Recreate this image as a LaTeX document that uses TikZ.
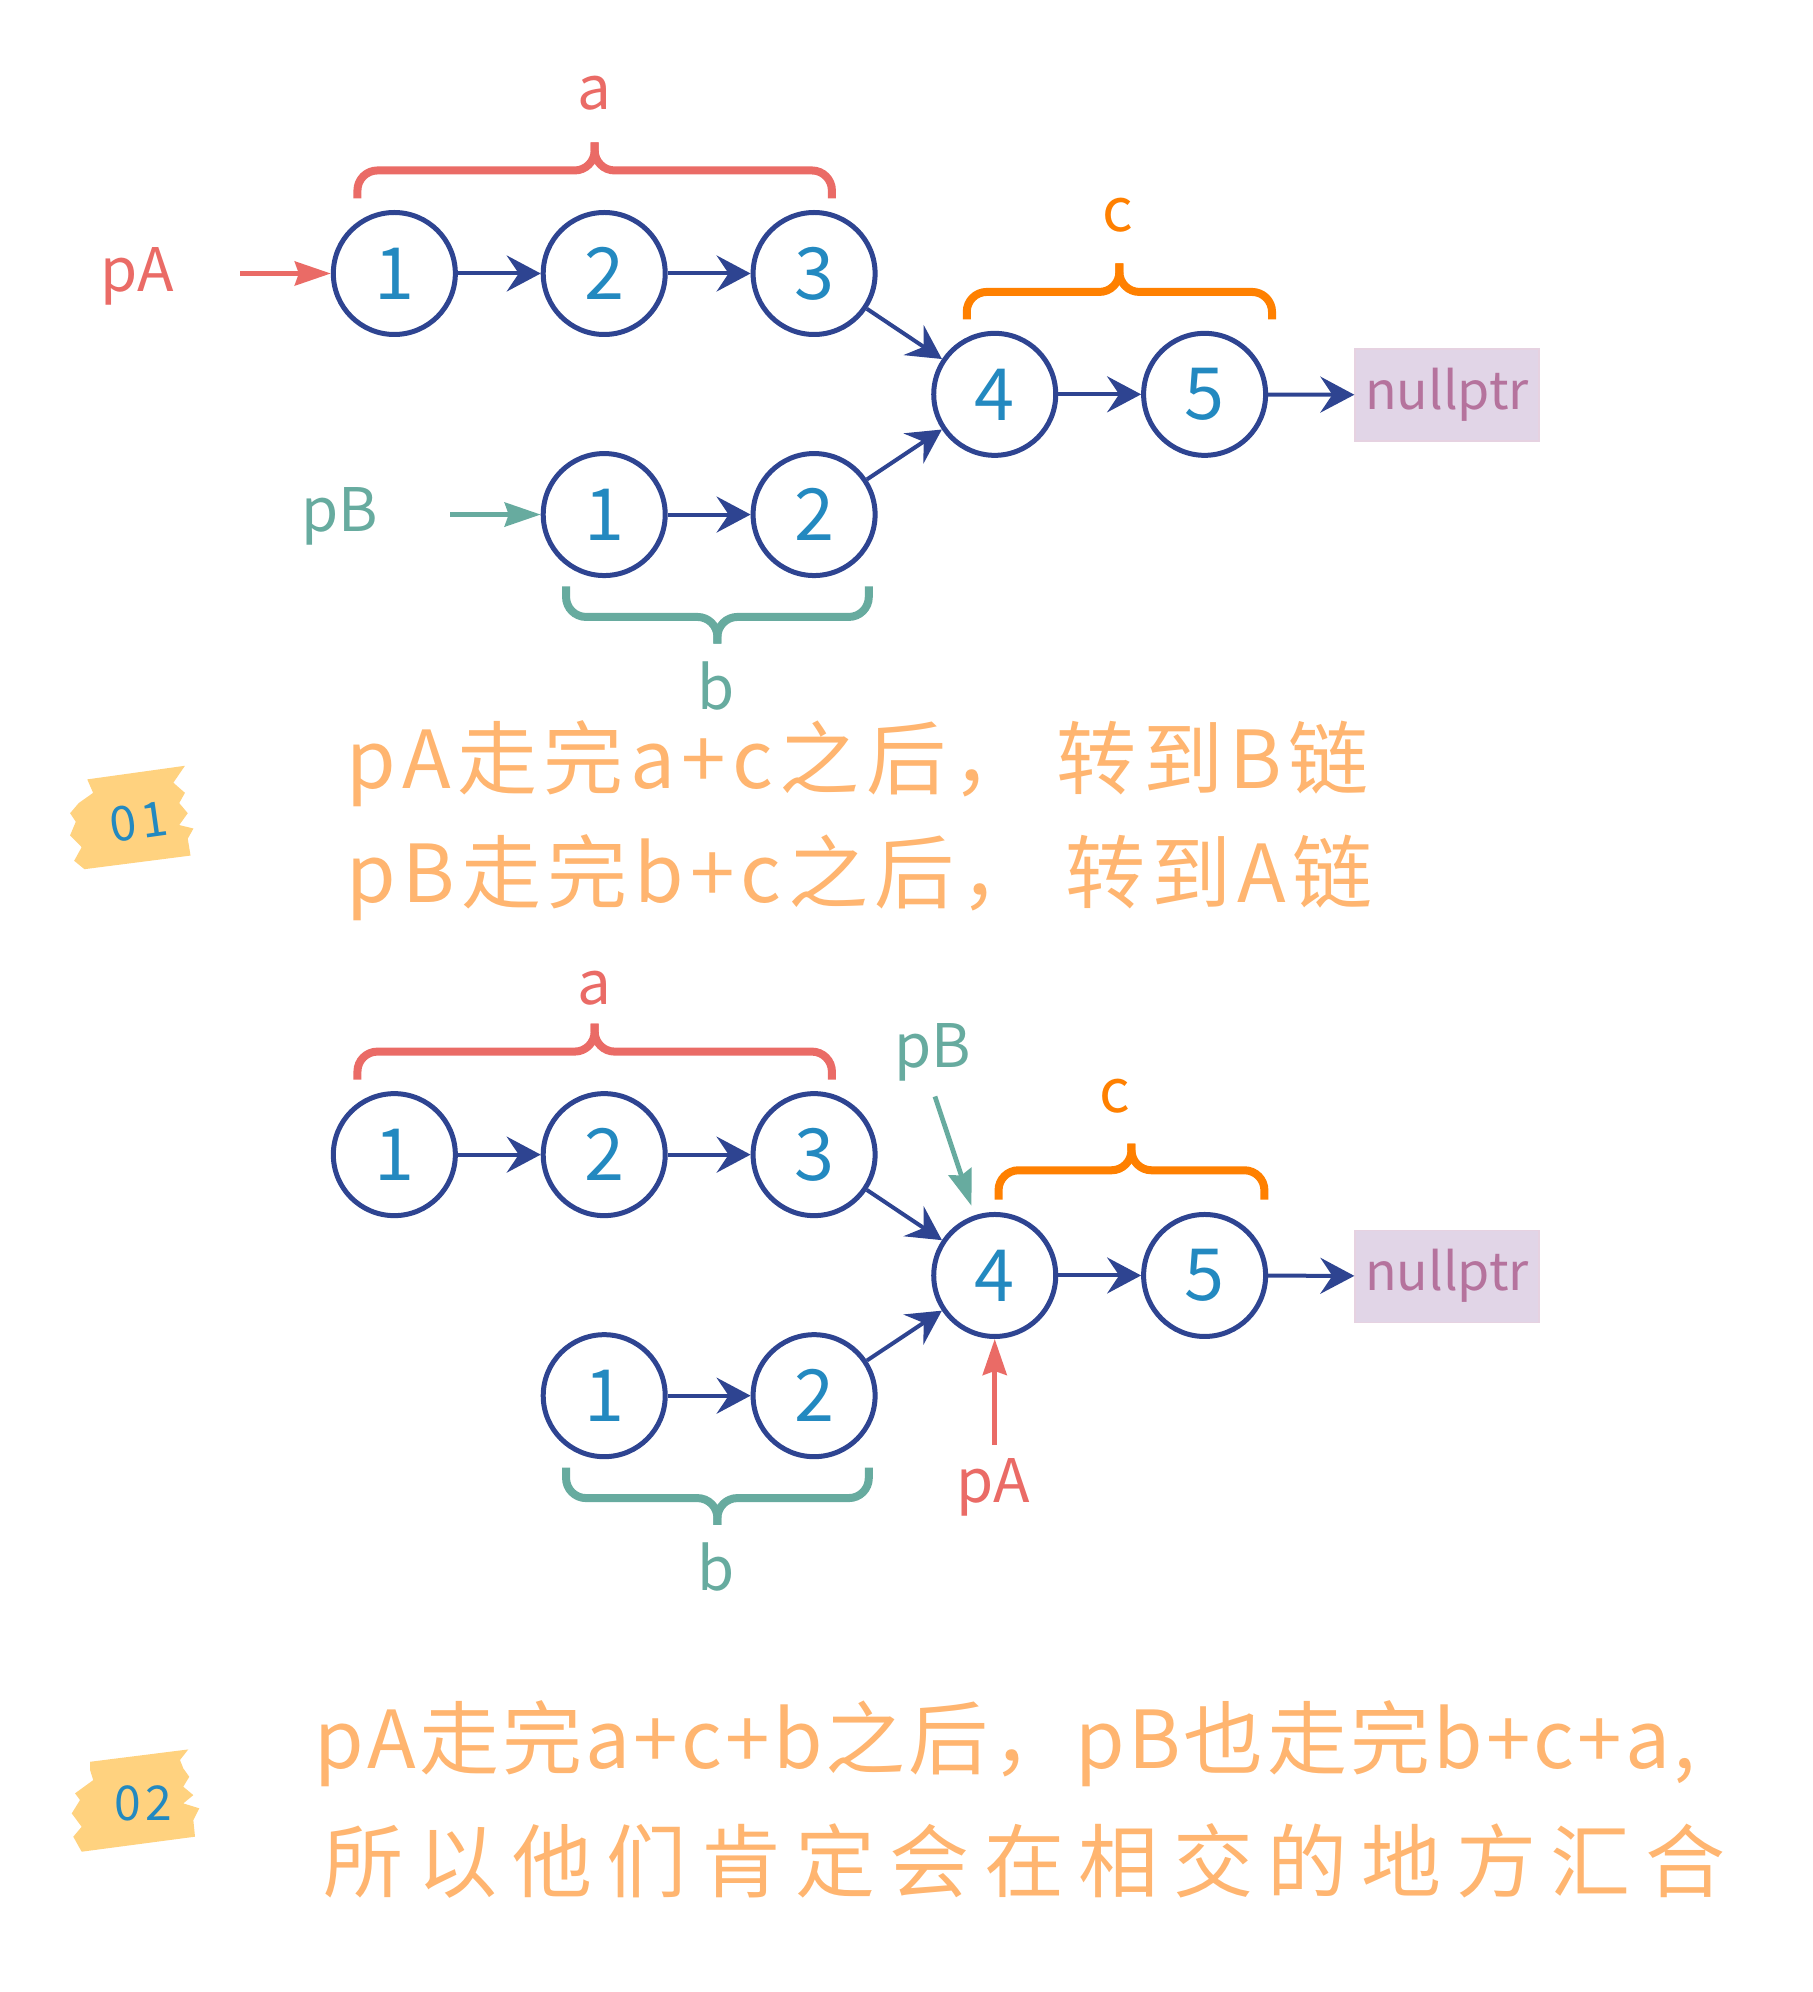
\documentclass[tikz,border=0pt]{standalone}
\usepackage{fontspec}
\setmainfont{Noto Sans CJK SC}
\newfontfamily\notefont{Noto Sans CJK SC}
\usetikzlibrary{arrows.meta}

\definecolor{nodeblue}{HTML}{2E4491}
\definecolor{digitblue}{HTML}{2389C0}
\definecolor{pared}{HTML}{EA6B66}
\definecolor{pbteal}{HTML}{67AB9F}
\definecolor{corange}{HTML}{FF8000}
\definecolor{noteorange}{HTML}{FFB570}
\definecolor{nullpink}{HTML}{B5739D}
\definecolor{nullfill}{HTML}{E1D5E7}
\definecolor{tagyellow}{HTML}{FFD27F}

\tikzset{
  lnode/.style={circle, draw=nodeblue, line width=2.5pt, minimum size=61pt, inner sep=0pt,
    text=digitblue, font=\fontsize{36}{36}\selectfont},
  link/.style={draw=nodeblue, line width=2pt, -{Stealth[length=17pt,width=18pt,inset=6pt]}},
  ptr/.style={line width=2.4pt, -{Stealth[length=18pt,width=12pt,inset=2pt]}},
  lbl/.style={inner sep=0pt, font=\fontsize{30}{30}\selectfont},
  brc/.style={line width=4pt, rounded corners=10pt},
  nullbox/.style={fill=nullfill, draw=nullfill!85!pink, line width=0.6pt, minimum width=92pt,
    minimum height=46pt, inner sep=0pt, text=nullpink, font=\fontsize{26}{26}\selectfont},
  note/.style={anchor=west, inner sep=0pt, text=noteorange},
  tagtxt/.style={inner sep=0pt, text=digitblue, font=\notefont\addfontfeature{LetterSpace=10}\fontsize{24}{24}\selectfont},
}

% brace: x1, x2, y of the ends, y of the bar, y of the tip, colour
\newcommand\hbrace[6]{%
  \draw[brc,#6] (#1,#3) -- (#1,#4) -- ({(#1+#2)/2},#4) -- ({(#1+#2)/2},#5);
  \draw[brc,#6] (#2,#3) -- (#2,#4) -- ({(#1+#2)/2},#4) -- ({(#1+#2)/2},#5);}

\begin{document}
\begin{tikzpicture}[x=0.636pt, y=-0.636pt]
\useasboundingbox (0,0) rectangle (1424.5,1566);

% the two lists, drawn twice
\foreach \s/\dy in {t/0, m/692.7}{
  \node[lnode] (a1\s) at (310,{215+\dy}) {1};
  \node[lnode] (a2\s) at (475,{215+\dy}) {2};
  \node[lnode] (a3\s) at (640,{215+\dy}) {3};
  \node[lnode] (b1\s) at (475,{404.5+\dy}) {1};
  \node[lnode] (b2\s) at (640,{404.5+\dy}) {2};
  \node[lnode] (c4\s) at (782,{310+\dy}) {4};
  \node[lnode] (c5\s) at (947,{310+\dy}) {5};
  \node[nullbox] (nl\s) at (1137.5,{310.5+\dy}) {nullptr};

  \draw[link] (a1\s) -- (a2\s);
  \draw[link] (a2\s) -- (a3\s);
  \draw[link] (a3\s) -- (c4\s);
  \draw[link] (b1\s) -- (b2\s);
  \draw[link] (b2\s) -- (c4\s);
  \draw[link] (c4\s) -- (c5\s);
  \draw[link] (c5\s) -- (nl\s);

  \hbrace{281}{654}{156+\dy}{134+\dy}{112+\dy}{pared}
  \hbrace{445}{683}{461+\dy}{485+\dy}{506+\dy}{pbteal}
  \node[lbl,text=pbteal] (lb\s) at (563,{539+\dy}) {b};
}

% step 01
\node[lbl,text=pared] (lat) at (467,73) {a};
\hbrace{760}{1000}{251}{229.5}{207}{corange}
\node[lbl,text=corange] (lct) at (879,169) {c};

\node[lbl,text=pared] (pat) at (108,217) {pA};
\coordinate (patail) at (189,215);
\draw[ptr,pared] (patail) -- (a1t);
\node[lbl,text=pbteal] (pbt) at (267,406) {pB};
\coordinate (pbtail) at (354,404.5);
\draw[ptr,pbteal] (pbtail) -- (b1t);

\fill[tagyellow] (68.6,612.7) -- (145.4,602) -- (136.3,615.3) -- (145.4,623.3) -- (140.9,631.3)
  -- (147.6,639.3) -- (140.9,648.6) -- (152.1,651.3) -- (147.6,659.3) -- (149.8,672.6)
  -- (66.4,683.3) -- (58.3,676.7) -- (64.2,666) -- (55.1,656.7) -- (59.6,646) -- (55.1,639.3)
  -- (61.9,631.3) -- (73.2,623.3) -- cycle;
\node[tagtxt,rotate=8] (tag1) at (109,646) {01};

\node[note,font=\notefont\addfontfeature{LetterSpace=8}\fontsize{40}{40}\selectfont] (n1) at (272,600) {pA走完a+c之后， 转到B链};
\node[note,font=\notefont\addfontfeature{LetterSpace=8}\fontsize{40}{40}\selectfont] (n2) at (272,690) {pB走完b+c之后， 转到A链};

% step 02
\node[lbl,text=pared] (lam) at (467,777) {a};
\hbrace{785}{994}{943}{920}{899}{corange}
\node[lbl,text=corange] (lcm) at (876,862) {c};

\node[lbl,text=pbteal] (pbm) at (733,827) {pB};
\coordinate (pbtailm) at (735,862);
\draw[ptr,pbteal,shorten >=5pt] (pbtailm) -- (c4m);
\node[lbl,text=pared] (pam) at (781,1169) {pA};
\coordinate (patailm) at (782,1136);
\draw[ptr,pared] (patailm) -- (c4m);

\fill[tagyellow] (70.8,1385) -- (148,1375.3) -- (141.5,1383.6) -- (144.1,1390.2) -- (148.8,1396.8)
  -- (144.1,1404.6) -- (152,1411.2) -- (144.1,1417.7) -- (156.7,1421.6) -- (152,1430.8)
  -- (153.3,1443.9) -- (64.2,1455.7) -- (57.6,1443.9) -- (64.2,1436.1) -- (56.4,1425.6)
  -- (62.9,1415.1) -- (59,1409.8) -- (73.3,1399.4) -- (70.8,1391.5) -- cycle;
\node[tagtxt] (tag2) at (112.7,1417.7) {02};

\node[note,font=\notefont\addfontfeature{LetterSpace=4}\fontsize{40}{40}\selectfont] (n3) at (247,1371) {pA走完a+c+b之后，pB也走完b+c+a,};
\node[note,font=\notefont\addfontfeature{LetterSpace=18}\fontsize{40}{40}\selectfont] (n4) at (254,1463) {所以他们肯定会在相交的地方汇合};
\end{tikzpicture}
\end{document}
